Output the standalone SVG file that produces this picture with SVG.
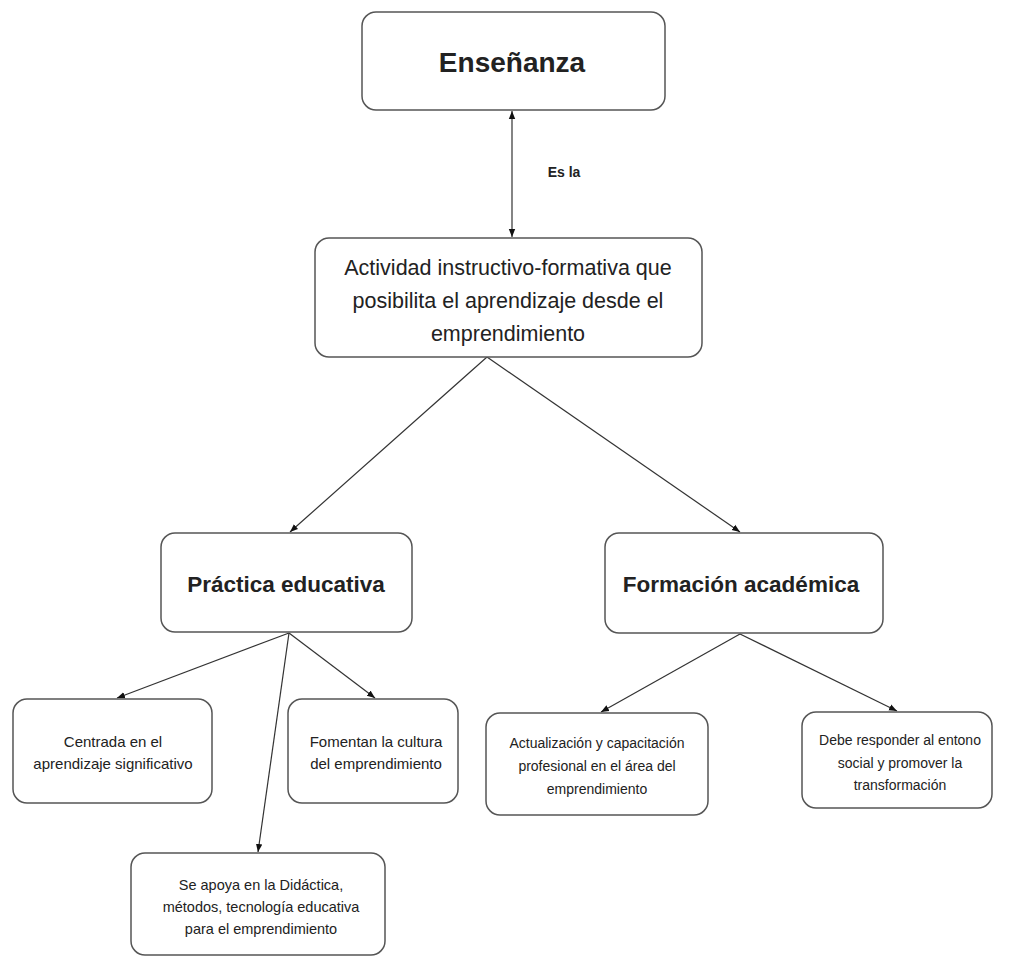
<svg xmlns="http://www.w3.org/2000/svg" width="1034" height="958" viewBox="0 0 1034 958">
<defs>
<marker id="ah" viewBox="0 0 10 10" refX="10" refY="5" markerWidth="8" markerHeight="8" orient="auto-start-reverse" markerUnits="userSpaceOnUse">
<path d="M0,1 L10,5 L0,9 z" fill="#111"/>
</marker>
<style>
.box{fill:#fff;stroke:#555;stroke-width:1.5}
.t{font-family:"Liberation Sans",Arial,sans-serif;fill:#222;text-anchor:middle}
.b{font-weight:bold}
.c{stroke:#333;stroke-width:1.2;fill:none;marker-end:url(#ah)}
</style>
</defs>
<rect width="1034" height="958" fill="#fff"/>
<g id="connectors">
<line class="c" x1="512" y1="111" x2="512" y2="237" marker-start="url(#ah)"/>
<text class="t b" x="564" y="177" font-size="14">Es la</text>
<line class="c" x1="487" y1="357" x2="290" y2="532"/>
<line class="c" x1="487" y1="357" x2="740" y2="532"/>
<line class="c" x1="289" y1="633" x2="117" y2="698"/>
<line class="c" x1="289" y1="633" x2="375" y2="698"/>
<line class="c" x1="289" y1="633" x2="258" y2="852"/>
<line class="c" x1="740" y1="634" x2="601" y2="712"/>
<line class="c" x1="740" y1="634" x2="897" y2="711"/>
</g>
<g id="n-ensenanza">
<rect class="box" x="362" y="12" width="303" height="98" rx="14"/>
<text class="t b" x="512" y="72" font-size="28">Enseñanza</text>
</g>
<g id="n-actividad">
<rect class="box" x="315" y="238" width="387" height="119" rx="14"/>
<text class="t" font-size="21.5"><tspan x="508" y="275">Actividad instructivo-formativa que</tspan><tspan x="508" y="308">posibilita el aprendizaje desde el</tspan><tspan x="508" y="341">emprendimiento</tspan></text>
</g>
<g id="n-practica">
<rect class="box" x="161" y="533" width="251" height="99" rx="14"/>
<text class="t b" x="286" y="592" font-size="22.5">Práctica educativa</text>
</g>
<g id="n-formacion">
<rect class="box" x="605" y="533" width="278" height="100" rx="14"/>
<text class="t b" x="741" y="592" font-size="22.5">Formación académica</text>
</g>
<g id="n-centrada">
<rect class="box" x="13" y="699" width="199" height="104" rx="14"/>
<text class="t" font-size="15"><tspan x="113" y="747">Centrada en el</tspan><tspan x="113" y="769">aprendizaje significativo</tspan></text>
</g>
<g id="n-fomentan">
<rect class="box" x="288" y="699" width="170" height="104" rx="14"/>
<text class="t" font-size="15"><tspan x="376" y="747">Fomentan la cultura</tspan><tspan x="376" y="769">del emprendimiento</tspan></text>
</g>
<g id="n-seapoya">
<rect class="box" x="131" y="853" width="254" height="102" rx="14"/>
<text class="t" font-size="14.5"><tspan x="261" y="890">Se apoya en la Didáctica,</tspan><tspan x="261" y="912">métodos, tecnología educativa</tspan><tspan x="261" y="934">para el emprendimiento</tspan></text>
</g>
<g id="n-actualizacion">
<rect class="box" x="486" y="713" width="222" height="102" rx="14"/>
<text class="t" font-size="14"><tspan x="597" y="748">Actualización y capacitación</tspan><tspan x="597" y="771">profesional en el área del</tspan><tspan x="597" y="794">emprendimiento</tspan></text>
</g>
<g id="n-debe">
<rect class="box" x="802" y="712" width="190" height="96" rx="14"/>
<text class="t" font-size="14"><tspan x="900" y="745">Debe responder al entono</tspan><tspan x="900" y="768">social y promover la</tspan><tspan x="900" y="790">transformación</tspan></text>
</g>
</svg>
